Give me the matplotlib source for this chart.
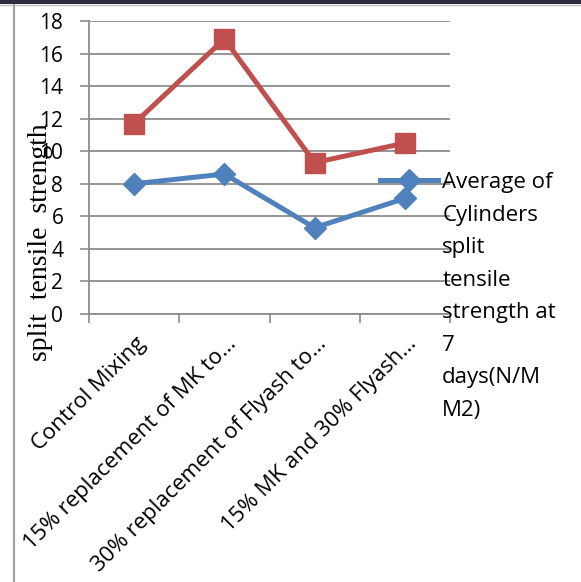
import matplotlib
matplotlib.use("Agg")
import matplotlib.pyplot as plt
from matplotlib.patches import Rectangle
from matplotlib.lines import Line2D
from matplotlib.transforms import ScaledTranslation

categories = ["Control Mixing", "15% replacement of MK to\u2026",
              "30% replacement of Flyash to\u2026", "15% MK and 30% Flyash\u2026"]
avg_7days = [8.0, 8.6, 5.3, 7.1]
other_series = [11.7, 16.9, 9.3, 10.5]
y_ticks = [0, 2, 4, 6, 8, 10, 12, 14, 16, 18]
legend_label = "Average of\nCylinders\nsplit\ntensile\nstrength at\n7\ndays(N/M\nM2)"
y_label = "split  tensile  strength"

W, H = 581, 582
fig = plt.figure(figsize=(W / 100, H / 100), dpi=100)
fig.patch.set_facecolor("white")

# frame decorations
fig.add_artist(Rectangle((0, 1 - 4 / H), 1, 4 / H, transform=fig.transFigure,
                         facecolor="#2b2b42", edgecolor="none"))
fig.add_artist(Line2D([0, 1], [1 - 5 / H, 1 - 5 / H], transform=fig.transFigure,
                      color="#bdbdbd", lw=1))
fig.add_artist(Line2D([14 / W, 14 / W], [0, 1 - 5 / H], transform=fig.transFigure,
                      color="#a0a0a0", lw=1.5))

ax = fig.add_axes([89 / W, 1 - 314 / H, (450 - 89) / W, (314 - 21) / H])
ax.set_facecolor("none")

x = list(range(len(categories)))
blue = "#4F81BD"
red = "#C0504D"
ax.plot(x, other_series, color=red, lw=3.6, marker="s", markersize=14.5,
        markeredgecolor=red, solid_joinstyle="round")
line_b, = ax.plot(x, avg_7days, color=blue, lw=3.6, marker="D", markersize=11.5,
                  markeredgecolor=blue, solid_joinstyle="round")

ax.set_ylim(0, 18)
ax.set_xlim(-0.5, len(categories) - 0.5)
ax.set_yticks(y_ticks)
ax.yaxis.grid(True, color="#8c8c8c", lw=1.3)
ax.set_axisbelow(True)

font = "Open Sans"
ax.set_yticklabels([str(v) for v in y_ticks], fontsize=15, family=font)
ax.tick_params(axis="y", length=6.5, width=1.2, color="#8c8c8c", pad=12)

ax.set_xticks([i - 0.5 for i in range(len(categories) + 1)])
ax.set_xticklabels([""] * (len(categories) + 1))
ax.set_xticks(x, minor=True)
ax.set_xticklabels(categories, minor=True, rotation=45, ha="right",
                   rotation_mode="anchor", fontsize=16, family=font)
ax.tick_params(axis="x", which="major", length=6.5, width=1.2, color="#8c8c8c")
ax.tick_params(axis="x", which="minor", length=0, pad=14)
off = ScaledTranslation(1 / 100, 0, fig.dpi_scale_trans)
for lbl in ax.get_xticklabels(minor=True):
    lbl.set_transform(lbl.get_transform() + off)

for s in ["top", "right"]:
    ax.spines[s].set_visible(False)
for s in ["left", "bottom"]:
    ax.spines[s].set_color("#8c8c8c")
    ax.spines[s].set_linewidth(1.3)

ax.set_ylabel(y_label, family="Liberation Serif", fontsize=20)
ax.yaxis.set_label_coords(-0.10, 0.245)

leg = ax.legend([line_b], [legend_label], loc="upper left",
                bbox_to_anchor=(380 / W, 1 - 172 / H), bbox_transform=fig.transFigure,
                frameon=False, handlelength=2.6, handletextpad=0.2,
                borderpad=0, borderaxespad=0,
                prop={"family": font, "size": 16})
for t in leg.get_texts():
    t.set_linespacing(1.72)
for col in leg._legend_handle_box.get_children():
    for hp in col.get_children():
        hp.align = "top"

fig.savefig("out.png", dpi=100)
